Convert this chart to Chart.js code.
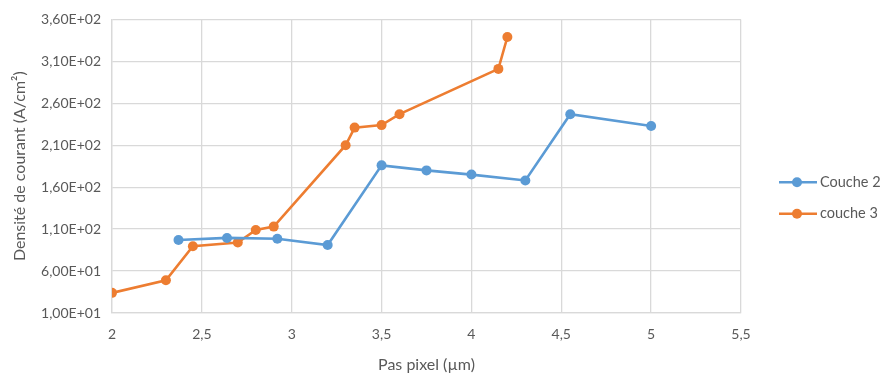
<!DOCTYPE html>
<html>
<head>
<meta charset="utf-8">
<script src="https://cdn.jsdelivr.net/npm/chart.js@4"></script>
<style>
  html, body { margin: 0; padding: 0; background: #fff; }
  #wrap { width: 881px; height: 374px; }
</style>
</head>
<body>
<div id="wrap"><canvas id="chart" width="881" height="374"></canvas></div>
<script>
// data
const couche2X = [2.37, 2.64, 2.92, 3.2, 3.5, 3.75, 4, 4.3, 4.55, 5];
const couche2Y = [97, 99.5, 98.5, 91, 186, 180, 175, 168, 247, 233];
const couche3X = [2, 2.3, 2.45, 2.7, 2.8, 2.9, 3.3, 3.35, 3.5, 3.6, 4.15, 4.2];
const couche3Y = [34, 49, 89.5, 94, 109, 113, 210, 231, 234, 247, 301, 339];
const seriesNames = ['Couche 2', 'couche 3'];
const seriesColors = ['#5B9BD5', '#ED7D31'];
const xTickLabels = ['2', '2,5', '3', '3,5', '4', '4,5', '5', '5,5'];
const yTickLabels = ['1,00E+01', '6,00E+01', '1,10E+02', '1,60E+02', '2,10E+02', '2,60E+02', '3,10E+02', '3,60E+02'];

const FONT = 'Lato, "Open Sans", sans-serif';
const TEXT = '#595959';
const GRID = '#d9d9d9';

const pts = (xs, ys) => xs.map((x, i) => ({ x: x, y: ys[i] }));

function series(i, data) {
  return {
    label: seriesNames[i],
    data: data,
    borderColor: seriesColors[i],
    backgroundColor: seriesColors[i],
    borderWidth: 2.6,
    pointRadius: 5,
    pointHoverRadius: 5,
    pointBorderWidth: 0,
    tension: 0,
    fill: false
  };
}

// legend drawn as line + dot, like the original
const sideLegend = {
  id: 'sideLegend',
  afterDraw(chart) {
    const ctx = chart.ctx;
    const a = chart.chartArea;
    const x0 = a.right + 38;
    const mid = (a.top + a.bottom) / 2;
    ctx.save();
    ctx.font = '14.5px ' + FONT;
    ctx.textBaseline = 'middle';
    chart.data.datasets.forEach((ds, i) => {
      const y = mid + 16 + i * 31.5;
      ctx.strokeStyle = ds.borderColor;
      ctx.lineWidth = 2.6;
      ctx.beginPath();
      ctx.moveTo(x0, y);
      ctx.lineTo(x0 + 38, y);
      ctx.stroke();
      ctx.fillStyle = ds.borderColor;
      ctx.beginPath();
      ctx.arc(x0 + 18, y, 5, 0, Math.PI * 2);
      ctx.fill();
      ctx.fillStyle = TEXT;
      ctx.fillText(ds.label, x0 + 41, y);
    });
    ctx.restore();
  }
};

new Chart(document.getElementById('chart'), {
  type: 'line',
  data: {
    datasets: [series(0, pts(couche2X, couche2Y)), series(1, pts(couche3X, couche3Y))]
  },
  options: {
    responsive: false,
    animation: false,
    layout: { padding: { top: 15, right: 140, left: 0, bottom: 0 } },
    plugins: { legend: { display: false }, tooltip: { enabled: false } },
    scales: {
      x: {
        type: 'linear',
        min: 2, max: 5.5,
        afterFit(s) { s.height = 61; },
        ticks: {
          stepSize: 0.5,
          color: TEXT,
          font: { family: FONT, size: 14 },
          padding: 13,
          callback: (v, i) => xTickLabels[i]
        },
        grid: { color: GRID, lineWidth: 1.3, drawTicks: false },
        border: { color: GRID, width: 1.3 },
        title: {
          display: true,
          text: 'Pas pixel (µm)',
          color: TEXT,
          font: { family: FONT, size: 16 },
          padding: { top: 0, bottom: 0 }
        }
      },
      y: {
        min: 10, max: 360,
        afterFit(s) { s.width = 112; },
        ticks: {
          stepSize: 50,
          color: TEXT,
          font: { family: FONT, size: 14 },
          padding: 11,
          callback: (v, i) => yTickLabels[i]
        },
        grid: { color: GRID, lineWidth: 1.3, drawTicks: false },
        border: { color: GRID, width: 1.3 },
        title: {
          display: true,
          text: 'Densité de courant (A/cm²)',
          color: TEXT,
          font: { family: FONT, size: 16 },
          padding: { top: 10, bottom: 0 }
        }
      }
    }
  },
  plugins: [sideLegend]
});
</script>
</body>
</html>
